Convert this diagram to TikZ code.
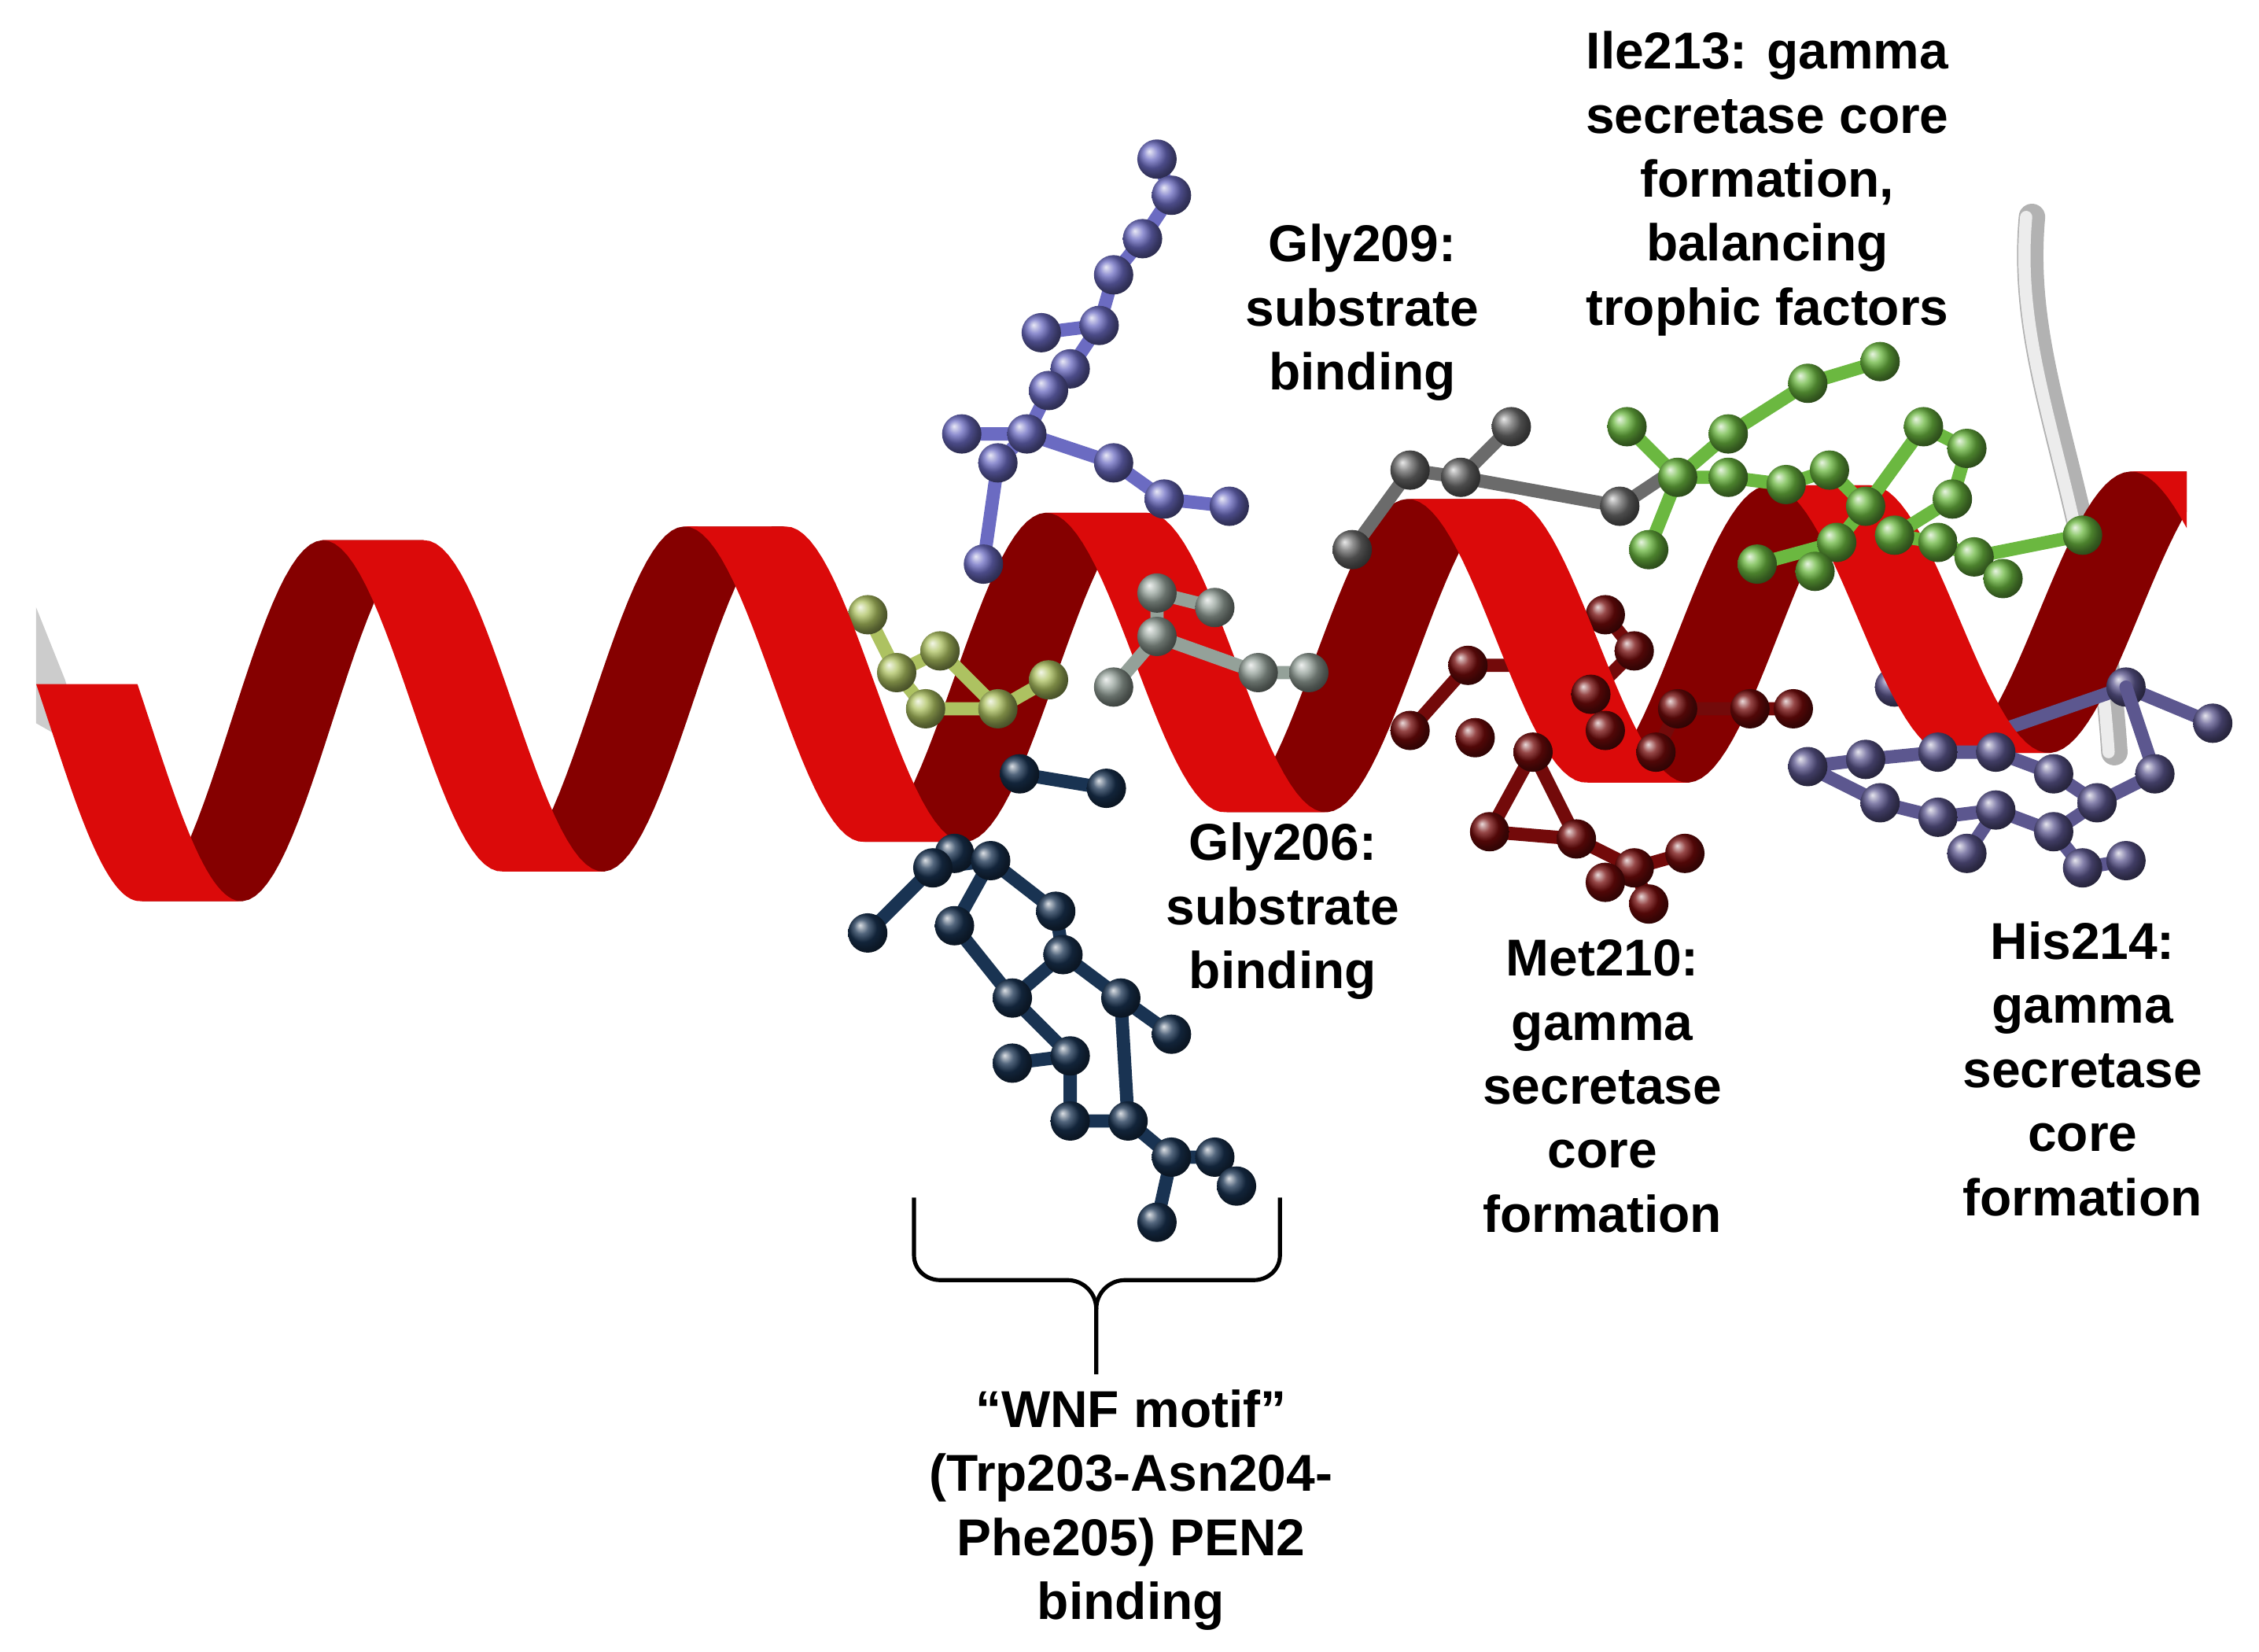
\documentclass[tikz,border=0pt]{standalone}
\usepackage{fontspec}
\setmainfont{Liberation Sans}
\begin{document}
\begin{tikzpicture}[x=0.05cm,y=-0.05cm,
  declare function={hx(\u)=25+(\u/360)*250; hy(\u)=505-0.06*(hx(\u)-25)+(124-0.022*(hx(\u)-25))*cos(\u-105);},
  lbl/.style={align=center,font=\bfseries\fontsize{51}{63}\selectfont,inner sep=0pt},
  bond/.style={line width=13pt,line cap=round,line join=round}]
\useasboundingbox[fill=white] (0,0) rectangle (1562,1142);
\definecolor{fr}{rgb}{0.86,0.04,0.04}
\definecolor{bk}{rgb}{0.52,0,0}
\definecolor{cviol}{rgb}{0.42,0.42,0.76}
\definecolor{colive}{rgb}{0.68,0.76,0.38}
\definecolor{cgg}{rgb}{0.58,0.63,0.6}
\definecolor{cdg}{rgb}{0.42,0.42,0.42}
\definecolor{cnavy}{rgb}{0.1,0.2,0.32}
\definecolor{cmar}{rgb}{0.45,0.04,0.04}
\definecolor{cgrn}{rgb}{0.42,0.72,0.25}
\definecolor{cslate}{rgb}{0.36,0.34,0.56}
\newcommand{\mybonds}[2]{\draw[bond,#1] plot coordinates {#2};}
\newcommand{\myatoms}[2]{\foreach \p in {#2} \shade[ball color=#1] \p circle[radius=0.68cm];}
% grey tube
\draw[line width=26pt,gray!60,line cap=round] (1405,150) .. controls (1395,260) and (1450,340) .. (1462,520);
\draw[line width=12pt,gray!15,line cap=round] (1401,150) .. controls (1391,260) and (1446,340) .. (1458,520);
\begin{scope}
\clip (25,0) rectangle (1512,1142);
\fill[gray!40] (25,420) -- (45,470) -- (60,520) -- (25,500) -- cycle;
\foreach \k in {0,...,5} {
  \fill[bk] plot[domain={105+360*\k}:{285+360*\k},samples=30,variable=\u] ({hx(\u)},{hy(\u)})
    -- plot[domain={285+360*\k}:{105+360*\k},samples=30,variable=\u] ({hx(\u)+70},{hy(\u)}) -- cycle;
}
\end{scope}
% molecules behind
\mybonds{colive}{(600,425)(620,465)(650,450)(690,490)(725,470)}
\mybonds{colive}{(620,465)(640,490)(690,490)}
\myatoms{colive}{(600,425),(620,465),(650,450),(690,490),(725,470),(640,490)}
\mybonds{cdg}{(935,380)(975,325)(1010,330)(1045,295)}
\mybonds{cdg}{(1010,330)(1120,350)(1150,330)}
\myatoms{cdg}{(935,380),(975,325),(1010,330),(1045,295),(1120,350)}
\mybonds{cmar}{(1110,425)(1130,450)(1100,480)(1060,460)(1015,460)(975,505)}
\mybonds{cmar}{(1100,480)(1110,505)(1145,520)(1160,490)(1210,490)(1240,490)}
\myatoms{cmar}{(1110,425),(1130,450),(1060,460),(1015,460),(1160,490),(1210,490),(1240,490)}
\mybonds{cslate}{(1310,475)(1340,520)(1470,475)(1530,500)}
\myatoms{cslate}{(1310,475),(1470,475),(1530,500)}
% front strands
\begin{scope}
\clip (25,0) rectangle (1512,1142);
\foreach \k in {-1,...,5} {
  \fill[fr] plot[domain={max(0,285+360*\k)}:{465+360*\k},samples=30,variable=\u] ({hx(\u)},{hy(\u)})
    -- plot[domain={465+360*\k}:{max(0,285+360*\k)},samples=30,variable=\u] ({hx(\u)+70},{hy(\u)}) -- cycle;
}
\end{scope}
% molecules in front
\mybonds{cviol}{(800,110)(810,135)(790,165)(770,190)(760,225)(740,255)(725,270)(710,300)(690,320)(680,390)}
\mybonds{cviol}{(665,300)(710,300)(770,320)(805,345)(850,350)}
\mybonds{cviol}{(720,230)(760,225)}
\myatoms{cviol}{(800,110),(810,135),(790,165),(770,190),(760,225),(740,255),(720,230),(725,270),(710,300),(690,320),(665,300),(770,320),(805,345),(850,350),(680,390)}
\mybonds{cgg}{(770,475)(800,440)(800,410)(840,420)}
\mybonds{cgg}{(800,440)(870,465)(905,465)}
\myatoms{cgg}{(770,475),(800,440),(800,410),(840,420),(870,465),(905,465)}
\mybonds{cnavy}{(705,535)(765,545)}
\mybonds{cnavy}{(660,590)(645,600)(600,645)}
\mybonds{cnavy}{(645,600)(685,595)(730,630)(735,660)(775,690)(810,715)}
\mybonds{cnavy}{(685,595)(660,640)(700,690)(740,730)(700,735)}
\mybonds{cnavy}{(735,660)(700,690)}
\mybonds{cnavy}{(775,690)(780,775)(740,775)(740,730)}
\mybonds{cnavy}{(780,775)(810,800)(840,800)(855,820)}
\mybonds{cnavy}{(810,800)(800,845)}
\myatoms{cnavy}{(705,535),(765,545),(660,590),(645,600),(685,595),(600,645),(660,640),(730,630),(700,690),(735,660),(775,690),(740,730),(810,715),(700,735),(740,775),(780,775),(810,800),(840,800),(800,845),(855,820)}
\mybonds{cmar}{(1030,575)(1060,520)(1090,580)(1130,600)(1140,625)}
\mybonds{cmar}{(1030,575)(1090,580)}
\mybonds{cmar}{(1110,610)(1130,600)(1165,590)}
\myatoms{cmar}{(975,505),(1020,510),(1060,520),(1100,480),(1110,505),(1145,520),(1030,575),(1090,580),(1130,600),(1140,625),(1110,610),(1165,590)}
\mybonds{cgrn}{(1125,295)(1160,330)(1195,300)(1250,265)(1300,250)}
\mybonds{cgrn}{(1160,330)(1195,330)(1235,335)(1265,325)(1290,350)(1270,375)(1255,395)}
\mybonds{cgrn}{(1270,375)(1215,390)}
\mybonds{cgrn}{(1290,350)(1330,295)(1360,310)(1350,345)(1310,370)(1340,375)(1365,385)(1385,400)}
\mybonds{cgrn}{(1160,330)(1140,380)}
\mybonds{cgrn}{(1365,385)(1440,370)}
\myatoms{cgrn}{(1250,265),(1195,300),(1125,295),(1160,330),(1195,330),(1235,335),(1265,325),(1290,350),(1270,375),(1255,395),(1215,390),(1330,295),(1360,310),(1350,345),(1310,370),(1340,375),(1365,385),(1385,400),(1440,370),(1140,380),(1300,250)}
\mybonds{cslate}{(1250,530)(1290,525)(1340,520)(1380,520)(1420,535)(1450,555)(1420,575)(1380,560)(1340,565)(1300,555)(1250,530)}
\mybonds{cslate}{(1420,575)(1440,600)(1470,595)}
\mybonds{cslate}{(1380,560)(1360,590)}
\mybonds{cslate}{(1450,555)(1490,535)(1470,475)}
\myatoms{cslate}{(1250,530),(1290,525),(1340,520),(1380,520),(1420,535),(1450,555),(1420,575),(1380,560),(1340,565),(1300,555),(1440,600),(1470,595),(1360,590),(1490,535)}
% labels
\node[lbl] (ile) at (1222,127) {Ile213: gamma\\secretase core\\formation,\\balancing\\trophic factors};
\node[lbl] (g209) at (942,216) {Gly209:\\substrate\\binding};
\node[lbl] (g206) at (887,630) {Gly206:\\substrate\\binding};
\node[lbl] (met) at (1108,751) {Met210:\\gamma\\secretase\\core\\formation};
\node[lbl] (his) at (1440,739) {His214:\\gamma\\secretase\\core\\formation};
\node[lbl] (wnf) at (782,1044) {“WNF motif”\\(Trp203-Asn204-\\Phe205) PEN2\\binding};
% brace
\draw[line width=4pt,line join=round] (632,828) -- (632,868) to[out=-90,in=180] (650,885) -- (738,885) to[out=0,in=90] (758,905) -- (758,950);
\draw[line width=4pt,line join=round] (885,828) -- (885,868) to[out=-90,in=0] (867,885) -- (778,885) to[out=180,in=90] (758,905);
\end{tikzpicture}
\end{document}
